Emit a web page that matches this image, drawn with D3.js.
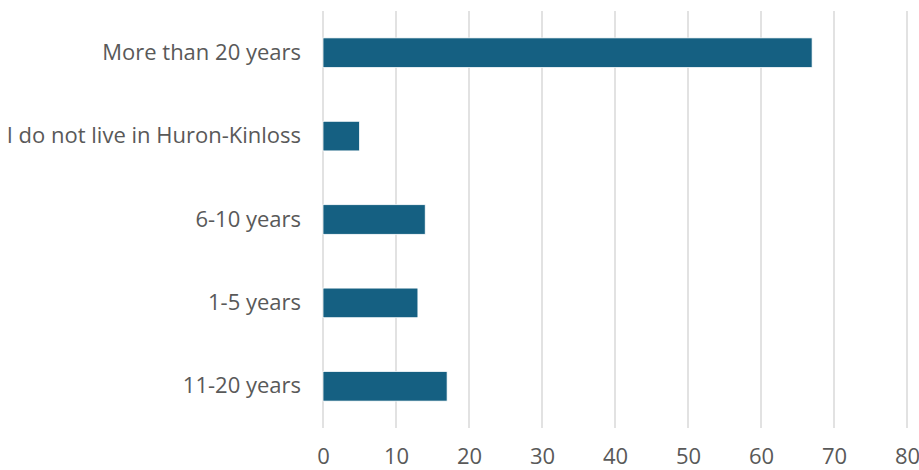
<!DOCTYPE html>
<html>
<head>
<meta charset="utf-8">
<script src="https://cdnjs.cloudflare.com/ajax/libs/d3/7.8.5/d3.min.js"></script>
<style>
  html, body { margin: 0; padding: 0; background: #fff; }
  svg { display: block; }
  .lbl text { font-family: "Open Sans", sans-serif; fill: #595959; }
</style>
</head>
<body>
<div id="chart"></div>
<script>
// data, top to bottom as shown
var categories = ["More than 20 years", "I do not live in Huron-Kinloss", "6-10 years", "1-5 years", "11-20 years"];
var values = [67, 5, 14, 13, 17];
var xTicks = [0, 10, 20, 30, 40, 50, 60, 70, 80];

var width = 919, height = 470;
var margin = {top: 11, right: 12, bottom: 42, left: 323};

var svg = d3.select('#chart').append('svg')
    .attr('width', width)
    .attr('height', height);

var x = d3.scaleLinear()
    .domain([0, 80])
    .range([margin.left, margin.left + 7.3 * 80]);

var y = d3.scaleBand()
    .domain(categories)
    .range([margin.top, height - margin.bottom])
    .paddingInner(0.645)
    .paddingOuter(0.3225);

// gridlines
svg.append('g')
    .selectAll('line')
    .data(xTicks)
    .enter().append('line')
    .attr('x1', function(d){ return x(d); })
    .attr('x2', function(d){ return x(d); })
    .attr('y1', margin.top)
    .attr('y2', height - margin.bottom)
    .attr('stroke', '#d9d9d9')
    .attr('stroke-width', 1.5);

// bars
svg.append('g')
    .selectAll('rect')
    .data(values)
    .enter().append('rect')
    .attr('x', x(0))
    .attr('y', function(d, i){ return y(categories[i]); })
    .attr('width', function(d){ return x(d) - x(0); })
    .attr('height', y.bandwidth())
    .attr('fill', '#156082')
    .attr('stroke', '#ffffff')
    .attr('stroke-width', 0.75);

// category labels
var yAxis = d3.axisLeft(y).tickSize(0).tickPadding(22);
svg.append('g')
    .attr('class', 'lbl')
    .attr('transform', 'translate(' + x(0) + ',0)')
    .call(yAxis)
    .call(function(g){ g.select('.domain').remove(); })
    .selectAll('text')
    .style('font-size', '22px');

// value axis labels
var xAxis = d3.axisBottom(x).tickValues(xTicks).tickSize(0).tickPadding(0);
svg.append('g')
    .attr('class', 'lbl')
    .attr('transform', 'translate(0,' + (height - margin.bottom + 20) + ')')
    .call(xAxis)
    .call(function(g){ g.select('.domain').remove(); })
    .selectAll('text')
    .style('font-size', '22px');
</script>
</body>
</html>
